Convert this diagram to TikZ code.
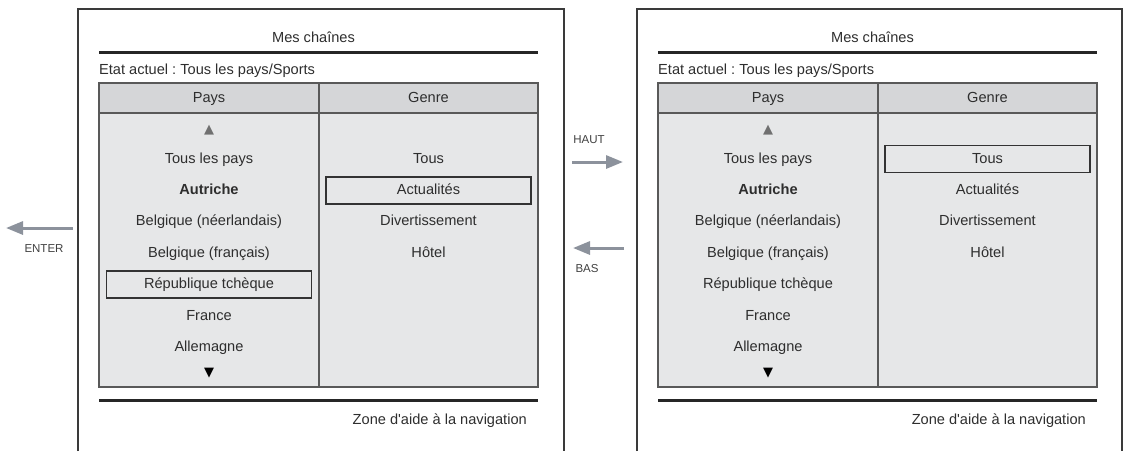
\documentclass[tikz,border=0pt]{standalone}
\usepackage{fontspec}
\setmainfont{Liberation Sans}[Ligatures=TeXOff]
\newfontfamily\symfont{DejaVu Sans}
\usetikzlibrary{
    arrows.meta,
    positioning
}
\definecolor{framegray}{HTML}{3A3A3A}
\definecolor{headgray}{HTML}{D5D6D8}
\definecolor{bodygray}{HTML}{E6E7E8}
\definecolor{navgray}{HTML}{8C929C}
\definecolor{txtgray}{HTML}{2E2E2E}
\definecolor{upgray}{HTML}{707070}
\frenchspacing

\begin{document}
\begin{tikzpicture}[
    x=1pt, y=-1pt,
    node distance=18pt,
    frame/.style={
        draw=framegray,
        line width=1.2pt
    },
    rule/.style={
        draw=black!85,
        line width=3pt
    },
    txt/.style={
        inner sep=0pt,
        text=txtgray,
        text height=10.5pt,
        text depth=2.5pt,
        font=\fontsize{14.6}{16}\selectfont
    },
    item/.style={
        txt
    },
    headcell/.style={
        txt,
        draw=black!65,
        line width=1.1pt,
        outer sep=0pt,
        fill=headgray,
        minimum height=30pt
    },
    bodycell/.style={
        draw=black!65,
        line width=1.1pt,
        outer sep=0pt,
        fill=bodygray,
        minimum height=274pt
    },
    selbox/.style={
        draw=black!80,
        line width=1.3pt,
        minimum width=205pt,
        minimum height=27pt
    },
    updown/.style={
        inner sep=0pt,
        font=\symfont\fontsize{13}{13}\selectfont
    },
    navarrow/.style={
        draw=navgray,
        line width=3pt,
        -{Triangle[length=17pt, width=13pt]}
    },
    keylbl/.style={
        inner sep=0pt,
        text=black!75,
        font=\fontsize{11.5}{12}\selectfont
    }
]
\useasboundingbox (0,0) rectangle (1124,451);

% left screen
\draw[frame] (78,451) -- (78,9) -- (564,9) -- (564,451);
\node[txt] (L-title) at (313.5,38) {Mes chaînes};
\draw[rule] (99,52) -- (538,52);
\node[txt, anchor=west] (L-state) at (99,70) {Etat actuel : Tous les pays/Sports};

\node[headcell, minimum width=220pt] (L-pays) at (209,98) {Pays};
\node[headcell, minimum width=219pt, right=0pt of L-pays] (L-genre) {Genre};
\node[bodycell, minimum width=220pt, below=0pt of L-pays] (L-pcol) {};
\node[bodycell, minimum width=219pt, below=0pt of L-genre] (L-gcol) {};

\node[updown, text=upgray] (L-up) at (209,130) {▲};
\node[item] (L-all) at (209,159) {Tous les pays};
\node[item, below=of L-all] (L-aut) {\textbf{Autriche}};
\node[item, below=of L-aut] (L-benl) {Belgique (néerlandais)};
\node[item, below=of L-benl] (L-befr) {Belgique (français)};
\node[item, below=of L-befr] (L-cz) {République tchèque};
\node[item, below=of L-cz] (L-fr) {France};
\node[item, below=of L-fr] (L-de) {Allemagne};
\node[updown, text=black] (L-down) at (209,373) {▼};

\node[item] (L-tous) at (428.5,159) {Tous};
\node[item, below=of L-tous] (L-actu) {Actualités};
\node[item, below=of L-actu] (L-div) {Divertissement};
\node[item, below=of L-div] (L-hotel) {Hôtel};

\node[selbox] (L-selcz) at (L-cz) {};
\node[selbox] (L-selactu) at (L-actu) {};

\draw[rule] (99,400) -- (538,400);
\node[txt, anchor=east] (L-help) at (527,420) {Zone d'aide à la navigation};

% right screen
\draw[frame] (637,451) -- (637,9) -- (1122,9) -- (1122,451);
\node[txt] (R-title) at (872.5,38) {Mes chaînes};
\draw[rule] (658,52) -- (1097,52);
\node[txt, anchor=west] (R-state) at (658,70) {Etat actuel : Tous les pays/Sports};

\node[headcell, minimum width=220pt] (R-pays) at (768,98) {Pays};
\node[headcell, minimum width=219pt, right=0pt of R-pays] (R-genre) {Genre};
\node[bodycell, minimum width=220pt, below=0pt of R-pays] (R-pcol) {};
\node[bodycell, minimum width=219pt, below=0pt of R-genre] (R-gcol) {};

\node[updown, text=upgray] (R-up) at (768,130) {▲};
\node[item] (R-all) at (768,159) {Tous les pays};
\node[item, below=of R-all] (R-aut) {\textbf{Autriche}};
\node[item, below=of R-aut] (R-benl) {Belgique (néerlandais)};
\node[item, below=of R-benl] (R-befr) {Belgique (français)};
\node[item, below=of R-befr] (R-cz) {République tchèque};
\node[item, below=of R-cz] (R-fr) {France};
\node[item, below=of R-fr] (R-de) {Allemagne};
\node[updown, text=black] (R-down) at (768,373) {▼};

\node[item] (R-tous) at (987.5,159) {Tous};
\node[item, below=of R-tous] (R-actu) {Actualités};
\node[item, below=of R-actu] (R-div) {Divertissement};
\node[item, below=of R-div] (R-hotel) {Hôtel};

\node[selbox] (R-seltous) at (R-tous) {};

\draw[rule] (658,400) -- (1097,400);
\node[txt, anchor=east] (R-help) at (1086,420) {Zone d'aide à la navigation};

% keys
\coordinate (enter-from) at (73,228);
\coordinate (enter-to) at (6,228);
\draw[navarrow] (enter-from) -- (enter-to);
\node[keylbl] (enter) at (44,249) {ENTER};

\coordinate (haut-from) at (572,162);
\coordinate (haut-to) at (623,162);
\draw[navarrow] (haut-from) -- (haut-to);
\node[keylbl] (haut) at (589,140) {HAUT};

\coordinate (bas-from) at (624,248);
\coordinate (bas-to) at (573,248);
\draw[navarrow] (bas-from) -- (bas-to);
\node[keylbl] (bas) at (587,269) {BAS};

\end{tikzpicture}
\end{document}
